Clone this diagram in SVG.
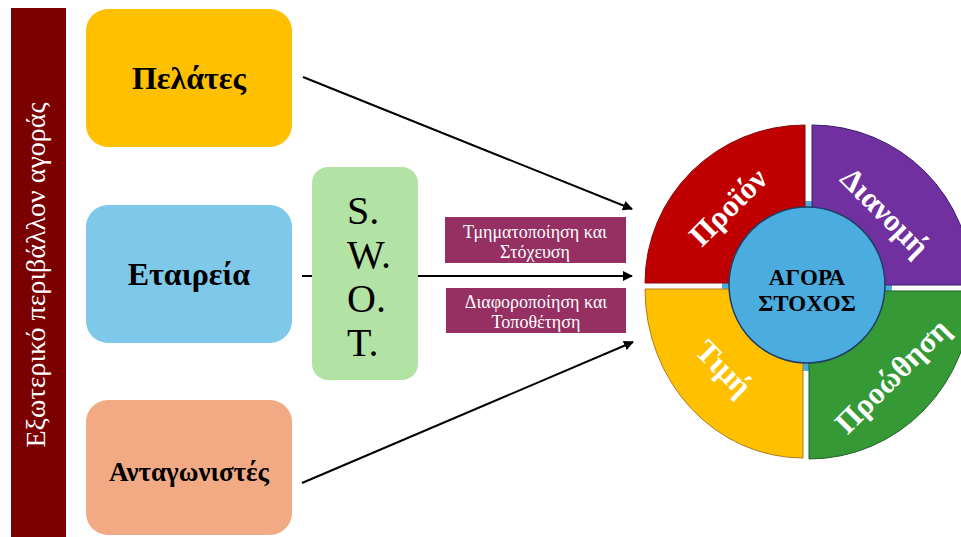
<svg xmlns="http://www.w3.org/2000/svg" width="961" height="537" viewBox="0 0 961 537">
<defs>
<marker id="ah" viewBox="0 0 10 10" refX="9" refY="5" markerWidth="5" markerHeight="5" orient="auto" markerUnits="strokeWidth">
<path d="M0,0 L10,5 L0,10 Z" fill="#000"/>
</marker>
</defs>
<style>
.box{stroke:none}
.bt{font-family:"Liberation Serif","DejaVu Serif",serif;font-weight:bold;fill:#000;text-anchor:middle}
.sw{font-family:"Liberation Serif","DejaVu Serif",serif;font-size:40px;fill:#000}
.lb{font-family:"Liberation Serif","DejaVu Serif",serif;font-size:18px;fill:#fff;text-anchor:middle}
.qt{font-family:"Liberation Serif","DejaVu Serif",serif;font-weight:bold;font-size:31px;fill:#fff;text-anchor:middle;dominant-baseline:central}
.conn{stroke:#000;stroke-width:2;fill:none;marker-end:url(#ah)}
</style>
<rect width="961" height="537" fill="#fff"/>

<g id="environment">
<rect x="11" y="8" width="55" height="529" fill="#7B0000"/>
<text transform="translate(45,275) rotate(-90)" font-family="'Liberation Serif','DejaVu Serif',serif" font-size="27" fill="#fff" text-anchor="middle" textLength="345" lengthAdjust="spacingAndGlyphs">Εξωτερικό περιβάλλον αγοράς</text>
</g>

<g id="connectors">
<line class="conn" x1="303" y1="77" x2="632" y2="209"/>
<line class="conn" x1="302" y1="276" x2="632" y2="276"/>
<line class="conn" x1="302" y1="483" x2="633" y2="342"/>
</g>

<g id="pelates">
<rect class="box" x="86" y="9" width="206" height="138" rx="22" fill="#FFC000"/>
<text class="bt" x="189" y="89" font-size="32">Πελάτες</text>
</g>
<g id="etaireia">
<rect class="box" x="86" y="205" width="206" height="138" rx="22" fill="#7EC8EA"/>
<text class="bt" x="189" y="285" font-size="32">Εταιρεία</text>
</g>
<g id="antagonistes">
<rect class="box" x="86" y="400" width="206" height="135" rx="22" fill="#F2AA84"/>
<text class="bt" x="189" y="481" font-size="27">Ανταγωνιστές</text>
</g>

<g id="swot">
<rect class="box" x="312" y="167" width="106" height="213" rx="16" fill="#B3E2A5"/>
<text class="sw" x="347" y="224">S.</text>
<text class="sw" x="347" y="268">W.</text>
<text class="sw" x="347" y="312">O.</text>
<text class="sw" x="347" y="356">T.</text>
</g>

<g id="segmentation">
<rect x="445" y="217" width="181" height="46" fill="#962F62"/>
<text class="lb" x="535" y="238">Τμηματοποίηση και</text>
<text class="lb" x="535" y="258">Στόχευση</text>
</g>
<g id="differentiation">
<rect x="446" y="288" width="180" height="45" fill="#962F62"/>
<text class="lb" x="536" y="308">Διαφοροποίηση και</text>
<text class="lb" x="536" y="328">Τοποθέτηση</text>
</g>

<g id="target">
<circle cx="807" cy="286" r="85" fill="#4BACE0"/>
<g id="proion">
<path d="M805,283 L645,283 A160 158 0 0 1 805,125 Z" fill="#C00000" stroke="#8A0A0A" stroke-width="1"/>
<text class="qt" transform="translate(728,207) rotate(-45)">Προϊόν</text>
</g>
<g id="dianomi">
<path d="M812,285 L812,125 A160 160 0 0 1 972,285 Z" fill="#7030A0" stroke="#3B1D6B" stroke-width="1"/>
<text class="qt" transform="translate(885,212) rotate(45)">Διανομή</text>
</g>
<g id="timi">
<path d="M803,289 L803,458 A158 169 0 0 1 645,289 Z" fill="#FFC000" stroke="#B07A1A" stroke-width="1"/>
<text class="qt" transform="translate(724,368) rotate(45)">Τιμή</text>
</g>
<g id="proothisi">
<path d="M809,291 L972,291 A163 168 0 0 1 809,459 Z" fill="#359A35" stroke="#1E5E2A" stroke-width="1"/>
<text class="qt" transform="translate(892,376) rotate(-45)">Προώθηση</text>
</g>
<g id="agora">
<circle cx="807" cy="285" r="78" fill="#4BACE0" stroke="#1F3F66" stroke-width="1.5"/>
<text class="bt" x="807" y="285" font-size="23">ΑΓΟΡΑ</text>
<text class="bt" x="807" y="311" font-size="23">ΣΤΟΧΟΣ</text>
</g>
</g>
</svg>
